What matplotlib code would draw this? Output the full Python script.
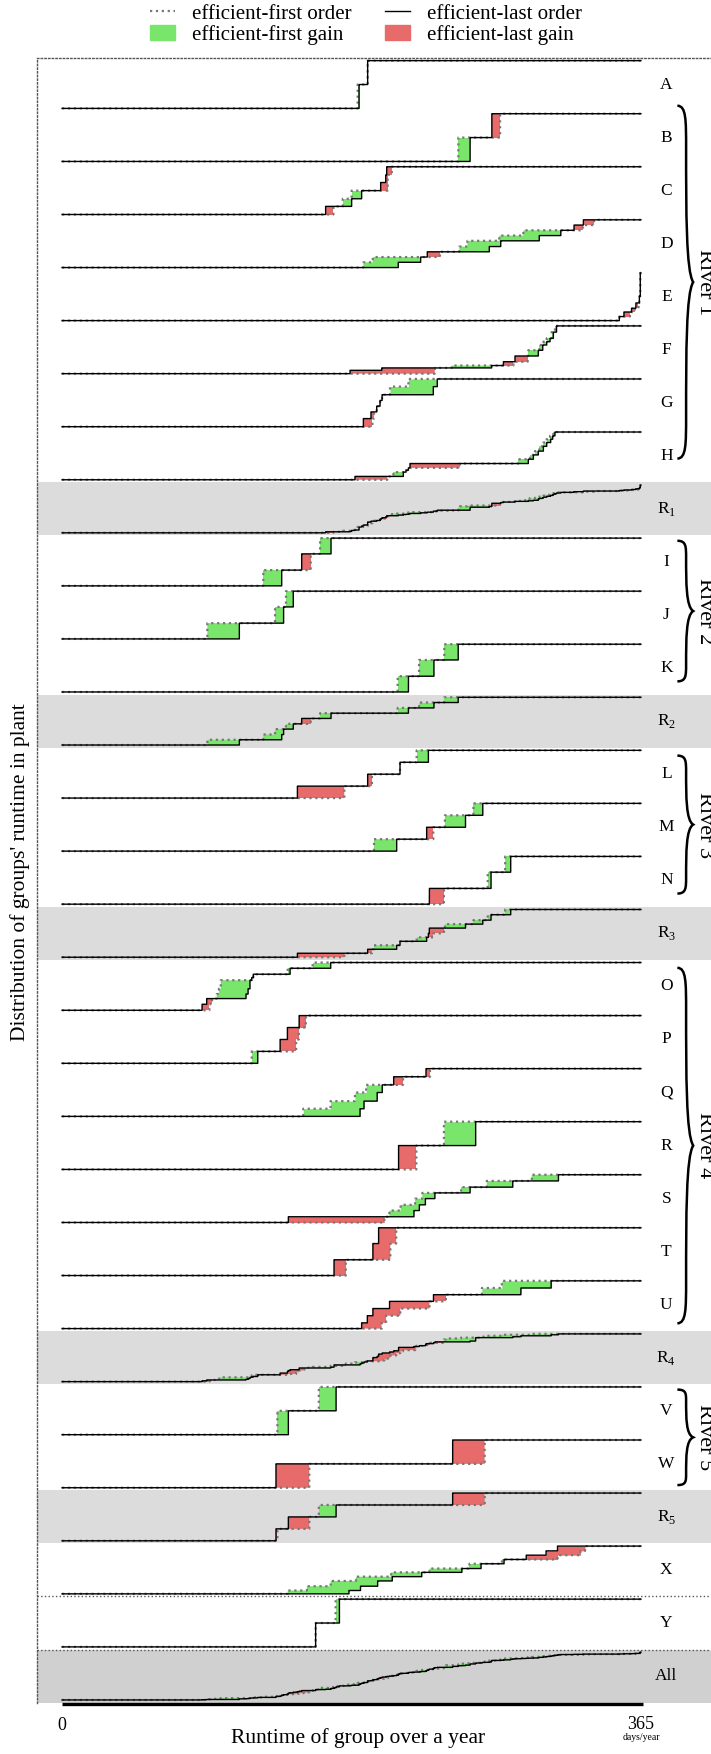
import matplotlib.pyplot as plt
from matplotlib.lines import Line2D
from matplotlib.patches import Patch, PathPatch
from matplotlib.path import Path
import numpy as np

plt.rcParams['font.family'] = ['Liberation Serif', 'DejaVu Serif']
plt.rcParams['mathtext.fontset'] = 'custom'
plt.rcParams['mathtext.rm'] = 'Liberation Serif'

# share of the group's runtime reached after each step, and the day (of 365)
# at which the efficient-first / efficient-last order reaches that share
A_level = [0.5, 1.0]
A_first = [186.4, 192.7]
A_last = [187.3, 192.7]

B_level = [0.5, 1.0]
B_first = [249.9, 276.2]
B_last = [257.3, 271.0]

C_level = [0.17, 0.33, 0.5, 0.67, 0.83, 1.0]
C_first = [171.1, 177.0, 182.6, 205.3, 205.3, 207.9]
C_last = [166.2, 182.6, 188.9, 200.9, 204.1, 204.7]

D_level = [0.11, 0.22, 0.33, 0.44, 0.56, 0.67, 0.78, 0.89, 1.0]
D_first = [190.0, 195.9, 238.3, 250.5, 255.6, 275.7, 290.9, 328.3, 335.4]
D_last = [212.0, 226.1, 230.3, 269.4, 276.6, 300.9, 314.5, 322.8, 328.7]

E_level = [0.085, 0.18, 0.26, 0.37, 0.51, 1.0]
E_first = [351.4, 358.1, 361.2, 363.5, 364.0, 364.6]
E_last = [351.4, 354.3, 359.1, 361.8, 364.0, 364.6]

F_level = [0.07, 0.12, 0.17, 0.25, 0.37, 0.49, 0.6, 0.67, 0.74, 0.87, 1.0]
F_first = [235.0, 235.2, 245.7, 284.6, 293.6, 294.0, 301.0, 303.5, 305.6, 308.7, 310.8]
F_last = [181.6, 201.6, 270.9, 278.3, 285.6, 300.3, 303.1, 305.6, 307.7, 309.8, 311.8]

G_level = [0.17, 0.31, 0.43, 0.55, 0.67, 0.84, 1.0]
G_first = [195.7, 196.7, 198.4, 200.5, 201.8, 206.8, 218.4]
G_last = [190.0, 194.8, 198.4, 200.5, 201.8, 234.1, 236.6]

H_level = [0.07, 0.16, 0.2, 0.25, 0.34, 0.43, 0.52, 0.6, 0.7, 0.78, 0.85, 0.92, 1.0]
H_first = [205.1, 208.9, 216.9, 218.4, 250.9, 287.7, 295.1, 298.2, 301.0, 303.5, 305.6, 307.7, 309.8]
H_last = [184.7, 215.2, 216.9, 218.4, 219.4, 294.0, 297.2, 300.3, 303.5, 305.6, 308.1, 309.4, 310.8]

I_level = [0.33, 0.67, 1.0]
I_first = [126.9, 156.8, 162.7]
I_last = [138.5, 151.1, 169.6]

J_level = [0.33, 0.67, 1.0]
J_first = [91.6, 134.3, 141.2]
J_last = [111.8, 139.7, 145.8]

K_level = [0.33, 0.67, 1.0]
K_first = [211.6, 225.1, 241.0]
K_last = [218.4, 234.5, 249.8]

L_level = [0.25, 0.5, 0.75, 1.0]
L_first = [178.0, 195.4, 213.1, 223.6]
L_last = [148.4, 192.7, 213.1, 231.0]

M_level = [0.25, 0.5, 0.75, 1.0]
M_first = [196.7, 234.1, 241.4, 259.4]
M_last = [211.0, 229.9, 254.4, 265.3]

N_level = [0.33, 0.67, 1.0]
N_first = [240.8, 268.4, 279.4]
N_last = [231.6, 270.5, 282.9]

O_level = [0.126, 0.245, 0.34, 0.45, 0.63, 0.685, 0.755, 0.88, 1.0]
O_first = [92.9, 94.6, 97.5, 98.9, 100.1, 119.6, 120.6, 142.3, 158.0]
O_last = [88.3, 91.2, 116.0, 117.3, 118.5, 119.6, 120.6, 143.8, 169.4]

P_level = [0.25, 0.5, 0.75, 1.0]
P_first = [119.6, 147.6, 149.3, 153.7]
P_last = [123.4, 137.5, 142.1, 149.5]

Q_level = [0.16, 0.32, 0.5, 0.66, 0.83, 1.0]
Q_first = [152.1, 169.3, 184.7, 191.7, 215.0, 232.0]
Q_last = [187.9, 190.4, 198.7, 201.9, 209.1, 229.5]

R_level = [0.5, 1.0]
R_first = [223.4, 240.8]
R_last = [212.2, 260.8]

S_level = [0.12, 0.25, 0.37, 0.5, 0.62, 0.74, 0.87, 1.0]
S_first = [203.2, 206.4, 213.5, 222.6, 227.2, 251.6, 267.8, 296.2]
S_last = [142.7, 221.9, 225.3, 229.1, 235.1, 257.3, 284.2, 313.0]

T_level = [0.33, 0.67, 1.0]
T_first = [178.9, 207.0, 210.7]
T_last = [171.5, 196.0, 199.6]

U_level = [0.12, 0.27, 0.42, 0.57, 0.71, 0.85, 1.0]
U_first = [201.5, 204.3, 213.3, 231.7, 242.0, 264.7, 277.3]
U_last = [188.9, 192.5, 196.0, 206.5, 234.2, 289.3, 308.4]

V_level = [0.5, 1.0]
V_first = [135.8, 161.9]
V_last = [142.7, 172.8]

W_level = [0.5, 1.0]
W_first = [155.9, 266.5]
W_last = [134.9, 246.3]

X_level = [0.07, 0.16, 0.27, 0.36, 0.45, 0.53, 0.63, 0.72, 0.81, 0.9, 1.0]
X_first = [142.3, 154.4, 169.4, 185.3, 207.5, 231.6, 256.9, 277.4, 312.4, 326.9, 329.8]
X_last = [180.9, 188.2, 199.0, 208.2, 226.8, 252.1, 264.2, 278.7, 292.7, 305.2, 312.4]

Y_level = [0.5, 1.0]
Y_first = [159.9, 172.5]
Y_last = [159.9, 174.9]

rivers = {'R1': 'ABCDEFGH', 'R2': 'IJK', 'R3': 'LMN', 'R4': 'OPQRSTU', 'R5': 'VW'}
river_names = ['River 1', 'River 2', 'River 3', 'River 4', 'River 5']
row_order = list('ABCDEFGH') + ['R1'] + list('IJK') + ['R2'] + list('LMN') + ['R3'] + \
    list('OPQRSTU') + ['R4'] + list('VW') + ['R5'] + ['X', 'Y', 'All']

green = '#79e66b'
red = '#e86b6b'

g = globals()
group_data = {k: (g[k + '_level'], g[k + '_first'], g[k + '_last']) for k in 'ABCDEFGHIJKLMNOPQRSTUVWXY'}

xg = np.linspace(0, 365, 7301)


def on_grid(days, levels):
    idx = np.searchsorted(np.asarray(days), xg, side='right')
    return np.concatenate([[0.0], levels])[idx]


curves = {k: (on_grid(d1, lev), on_grid(d2, lev)) for k, (lev, d1, d2) in group_data.items()}
for agg, members in rivers.items():
    curves[agg] = (np.mean([curves[m][0] for m in members], axis=0),
                   np.mean([curves[m][1] for m in members], axis=0))
curves['All'] = (np.mean([curves[m][0] for m in group_data], axis=0),
                 np.mean([curves[m][1] for m in group_data], axis=0))


def brace(ax, x0, w, yt, yb):
    ym = (yt + yb) / 2
    h = yt - yb
    a = x0 + 0.55 * w
    tip = x0 + w
    verts = [(x0, yt), (a, yt), (a, yt - 0.04 * h), (a, yt - 0.12 * h),
             (a, ym + 0.2 * h), (a, ym + 0.03 * h), (tip, ym),
             (a, ym - 0.03 * h), (a, ym - 0.2 * h), (a, yb + 0.12 * h),
             (a, yb + 0.04 * h), (a, yb), (x0, yb)]
    codes = [Path.MOVETO] + [Path.CURVE4] * 12
    ax.add_patch(PathPatch(Path(verts, codes), fill=False, lw=1.8, color='black', clip_on=False))


fig = plt.figure(figsize=(7.11, 17.54), dpi=100)
ax = fig.add_axes([37 / 711, 51.4 / 1754, 674 / 711, 1644.6 / 1754])
ax.set_xlim(-15.8, 409.2)
ax.set_ylim(0, 31)
ax.set_xticks([])
ax.set_yticks([])
for s in ['right', 'bottom']:
    ax.spines[s].set_visible(False)
for s in ['left', 'top']:
    ax.spines[s].set_linestyle(':')
    ax.spines[s].set_color('#555555')
    ax.spines[s].set_linewidth(1.0)

for i, name in enumerate(row_order):
    b = 30 - i
    if name in rivers:
        ax.axhspan(b, b + 1, color='#dcdcdc', lw=0, zorder=0)
    elif name == 'All':
        ax.axhspan(b, b + 1, color='#d0d0d0', lw=0, zorder=0)
    f1, f2 = curves[name]
    y1 = b + 0.05 + 0.9 * f1
    y2 = b + 0.05 + 0.9 * f2
    ax.fill_between(xg, y1, y2, where=f1 > f2 + 1e-9, color=green, step='post', lw=0, zorder=2)
    ax.fill_between(xg, y1, y2, where=f2 > f1 + 1e-9, color=red, step='post', lw=0, zorder=2)
    ax.plot(xg, y1, ls=':', color='#777777', lw=1.6, drawstyle='steps-post', zorder=3)
    ax.plot(xg, y2, color='black', lw=1.0, drawstyle='steps-post', zorder=4)
    label = 'R$_{%s}$' % name[1] if name in rivers else name
    ax.text(381, b + 0.5, label, ha='center', va='center', fontsize=12.5)

for y in [2, 1]:
    ax.axhline(y, ls=':', color='#555555', lw=1.0, zorder=1)

brace_spans = [(30.1, 23.45), (21.9, 19.25), (17.85, 15.25), (13.85, 7.15), (5.9, 4.1)]
for (yt, yb), rname in zip(brace_spans, river_names):
    brace(ax, 388, 10, yt, yb)
    ax.text(404.8, (yt + yb) / 2, rname, rotation=270, ha='center', va='center',
            fontsize=16, clip_on=False)

ax.plot([-0.3, 366.5], [-0.03, -0.03], color='black', lw=2.4, clip_on=False, solid_capstyle='butt')
ax.text(0, -0.44, '0', ha='center', va='center', fontsize=13, clip_on=False)
ax.text(365, -0.41, '365', ha='center', va='center', fontsize=13, clip_on=False)
ax.text(365, -0.66, 'days/year', ha='center', va='center', fontsize=7, clip_on=False)
fig.text(358 / 711, 0.009, 'Runtime of group over a year', ha='center', va='center', fontsize=15.5)
fig.text(20 / 711, 0.503, "Distribution of groups' runtime in plant", ha='center', va='center',
         rotation=90, fontsize=15.5)

handles = [Line2D([], [], ls=':', color='#777777', lw=1.6),
           Patch(color=green),
           Line2D([], [], color='black', lw=1.0),
           Patch(color=red)]
labels = ['efficient-first order', 'efficient-first gain', 'efficient-last order', 'efficient-last gain']
fig.legend(handles, labels, loc='upper center', bbox_to_anchor=(366 / 711, 1.0), ncol=2,
           frameon=False, fontsize=15, handlelength=1.2, handletextpad=0.8, columnspacing=1.6,
           labelspacing=0.05, borderaxespad=0.1, borderpad=0.1)

fig.savefig('out.png', dpi=100)
